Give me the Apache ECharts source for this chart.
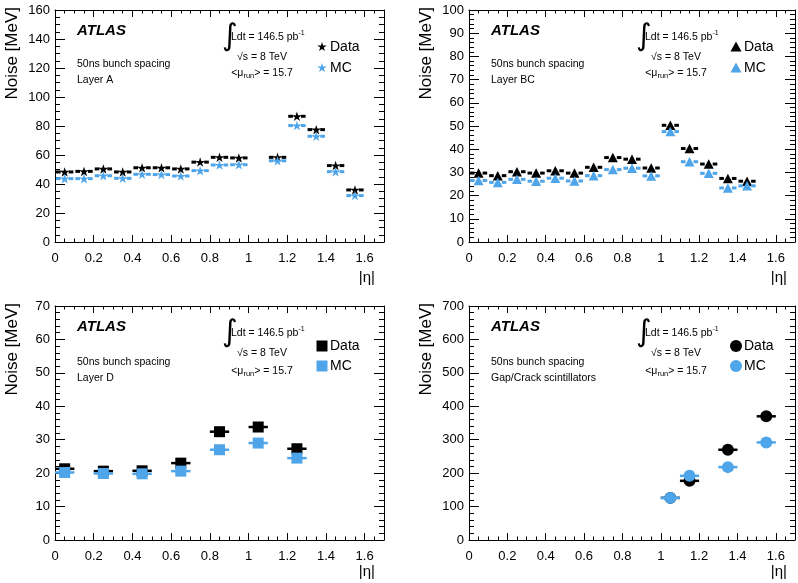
<!DOCTYPE html>
<html><head><meta charset="utf-8">
<script src="https://cdn.jsdelivr.net/npm/echarts@6/dist/echarts.min.js"></script>
<style>html,body{margin:0;padding:0;background:#fff}#c{width:798px;height:583px}</style>
</head><body><div id="c"></div>
<script>
// ---------------- data ----------------
const etaA   = [0.05,0.15,0.25,0.35,0.45,0.55,0.65,0.75,0.85,0.95,1.15,1.25,1.35,1.45,1.55];
const dataA  = [48.3,48.7,50.4,48.3,51.2,51.2,50.4,55.1,58.4,58.0,58.4,86.7,77.5,52.7,35.9];
const mcA    = [43.7,43.7,45.7,43.9,46.7,46.5,45.5,49.2,53.1,53.3,56.0,80.3,72.9,48.5,32.0];

const etaBC  = [0.05,0.15,0.25,0.35,0.45,0.55,0.65,0.75,0.85,0.95,1.05,1.15,1.25,1.35,1.45];
const dataBC = [29.7,28.6,30.3,29.7,30.7,29.7,32.2,36.4,35.7,31.9,50.3,40.3,33.6,27.4,26.2];
const mcBC   = [26.5,25.7,27.0,26.2,27.5,26.3,28.6,31.2,31.8,28.5,47.6,34.6,29.6,23.3,24.2];

const etaD   = [0.05,0.25,0.45,0.65,0.85,1.05,1.25];
const dataD  = [21.3,20.6,20.7,23.0,32.4,33.8,27.3];
const mcD    = [20.2,19.9,19.8,20.6,27.0,29.0,24.5];

const etaGC  = [1.05,1.15,1.35,1.55];
const dataGC = [126,177,270,370];
const mcGC   = [126,192,218,292];

const xTicks = [0,0.2,0.4,0.6,0.8,1,1.2,1.4,1.6];
const layerNames = ['Layer A','Layer BC','Layer D','Gap/Crack scintillators'];
const yMax = [160,100,70,700];
const yStep = [20,10,10,100];
const yMinorSplit = [4,5,5,5];

// ---------------- layout ----------------
const FONT = '"Liberation Sans", Arial, Helvetica, sans-serif';
const BLUE = '#4ea5ea';
const grids = [
  {left:55, top:10, width:329, height:232},
  {left:469, top:10, width:327, height:232},
  {left:55, top:306, width:329, height:234},
  {left:469, top:306, width:327, height:234}
];
const STAR = 'path://M0,-10L2.245,-3.09L9.51,-3.09L3.633,1.18L5.88,8.09L0,3.82L-5.88,8.09L-3.633,1.18L-9.51,-3.09L-2.245,-3.09Z';
const panels = [
  {eta:etaA, data:dataA, mc:mcA, symbol:STAR, size:[10,9.5], gap:4, lw:3, kind:'star'},
  {eta:etaBC, data:dataBC, mc:mcBC, symbol:'triangle', size:[10,9.5], gap:4, lw:3, kind:'tri'},
  {eta:etaD, data:dataD, mc:mcD, symbol:'rect', size:[11,11], gap:0, lw:2.5, kind:'rect'},
  {eta:etaGC, data:dataGC, mc:mcGC, symbol:'circle', size:[12,12], gap:0, lw:2.5, kind:'circle'}
];

const cv = document.createElement('canvas').getContext('2d');
function tw(t, font){ cv.font = font; return cv.measureText(t).width; }
function txt(x, y, t, size, opts){
  opts = opts || {};
  const el = {type:'text', x:x, y:y, rotation: opts.rot||0, z:100,
    style:{text:t, fontSize:size, fontFamily: opts.family||FONT, fontWeight: opts.weight||'normal',
      fontStyle: opts.fstyle||'normal', fill:'#000',
      align: opts.align||'left', verticalAlign: opts.va||'middle',
      textAlign: opts.align||'left', textVerticalAlign: opts.va||'middle'}};
  return el;
}
function run(x, y, parts, center){
  const widths = parts.map(p => tw(p.t, p.size+'px "Liberation Sans"'));
  const total = widths.reduce((a,b)=>a+b,0);
  let cx = center ? x - total/2 : x;
  const els = [];
  parts.forEach((p,i)=>{ els.push(txt(cx, y + (p.dy||0), p.t, p.size)); cx += widths[i]; });
  return els;
}
function starPts(cx, cy, R){
  const pts=[]; const r=R*0.382;
  for(let k=0;k<10;k++){ const a=-Math.PI/2 + k*Math.PI/5; const rr = k%2? r:R;
    pts.push([cx+rr*Math.cos(a), cy+rr*Math.sin(a)]); }
  return pts;
}
function marker(kind, cx, cy, color){
  if(kind==='star') return {type:'polygon', z:100, shape:{points:starPts(cx,cy,5)}, style:{fill:color}};
  if(kind==='tri') return {type:'polygon', z:100, shape:{points:[[cx,cy-5.5],[cx+5.5,cy+4.5],[cx-5.5,cy+4.5]]}, style:{fill:color}};
  if(kind==='rect') return {type:'rect', z:100, shape:{x:cx-5.5,y:cy-5.5,width:11,height:11}, style:{fill:color}};
  return {type:'circle', z:100, shape:{cx:cx,cy:cy,r:6}, style:{fill:color}};
}

// ---------------- axes ----------------
const xAxes=[], yAxes=[], series=[], graphics=[];
grids.forEach((g,i)=>{
  const common = {type:'value', gridIndex:i, min:0, max:1.7, splitLine:{show:false}};
  xAxes.push(Object.assign({}, common, {position:'bottom', interval:0.2,
    axisLine:{show:true, onZero:false, lineStyle:{color:'#000', width:1}},
    axisTick:{show:true, inside:true, length:7, lineStyle:{color:'#000'}},
    axisLabel:{show:true, margin:10, fontSize:13, fontFamily:FONT, color:'#000',
      formatter: v => (v>1.65 ? '' : (xTicks.indexOf(Math.round(v*10)/10)>=0 ? String(Math.round(v*10)/10) : ''))}}));
  xAxes.push(Object.assign({}, common, {position:'bottom', interval:0.05,
    axisLine:{show:false, onZero:false}, axisTick:{show:true, inside:true, length:3.5, lineStyle:{color:'#000'}},
    axisLabel:{show:false}}));
  xAxes.push(Object.assign({}, common, {position:'top', interval:0.2,
    axisLine:{show:true, onZero:false, lineStyle:{color:'#000', width:1}},
    axisTick:{show:true, inside:true, length:7, lineStyle:{color:'#000'}}, axisLabel:{show:false}}));
  xAxes.push(Object.assign({}, common, {position:'top', interval:0.05,
    axisLine:{show:false, onZero:false}, axisTick:{show:true, inside:true, length:3.5, lineStyle:{color:'#000'}},
    axisLabel:{show:false}}));
  const yc = {type:'value', gridIndex:i, min:0, max:yMax[i], interval:yStep[i], splitLine:{show:false},
    minorTick:{show:true, splitNumber:yMinorSplit[i], length:5, lineStyle:{color:'#000'}},
    axisTick:{show:true, inside:true, length:10, lineStyle:{color:'#000'}}};
  yAxes.push(Object.assign({}, yc, {position:'left',
    axisLine:{show:true, onZero:false, lineStyle:{color:'#000', width:1}},
    axisLabel:{show:true, margin:5, fontSize:13, fontFamily:FONT, color:'#000', padding:[6,0,0,0]}}));
  yAxes.push(Object.assign({}, yc, {position:'right',
    axisLine:{show:true, onZero:false, lineStyle:{color:'#000', width:1}},
    axisLabel:{show:false}}));

  // ---------- series ----------
  const p = panels[i];
  const mk = (vals) => p.eta.map((e,k)=>[e, vals[k]]);
  const errSeries = (vals, color, z) => ({
    type:'custom', xAxisIndex:4*i, yAxisIndex:2*i, z:z, clip:false, silent:true,
    data: mk(vals), encode:{x:0, y:1},
    renderItem: (params, api) => {
      const x = api.value(0), y = api.value(1);
      const c = api.coord([x,y]), l = api.coord([x-0.05,y]), r = api.coord([x+0.05,y]);
      const st = {stroke:color, lineWidth:p.lw};
      if(p.gap>0){
        return {type:'group', children:[
          {type:'line', shape:{x1:l[0]+1, y1:c[1], x2:c[0]-p.gap, y2:c[1]}, style:st},
          {type:'line', shape:{x1:c[0]+p.gap, y1:c[1], x2:r[0]-1, y2:c[1]}, style:st}
        ]};
      }
      return {type:'line', shape:{x1:l[0], y1:c[1], x2:r[0], y2:c[1]}, style:st};
    }
  });
  series.push(errSeries(p.data, '#000', 2));
  series.push({type:'scatter', name:'Data', xAxisIndex:4*i, yAxisIndex:2*i, z:3, data:mk(p.data),
    symbol:p.symbol, symbolSize:p.size, itemStyle:{color:'#000', opacity:1}, silent:true});
  series.push(errSeries(p.mc, BLUE, 4));
  series.push({type:'scatter', name:'MC', xAxisIndex:4*i, yAxisIndex:2*i, z:5, data:mk(p.mc),
    symbol:p.symbol, symbolSize:p.size, itemStyle:{color:BLUE, opacity:1}, silent:true});

  // ---------- annotations ----------
  const L = g.left, T = g.top, bottomPanel = i>=2;
  const o = bottomPanel ? 2 : 0;
  graphics.push(txt(L+22, T+21, 'ATLAS', 15, {weight:'bold', fstyle:'italic'}));
  graphics.push(txt(L+22, T+54+o, '50ns bunch spacing', 10.5));
  graphics.push(txt(L+22, T+70+o, layerNames[i], 10.5));
  graphics.push(txt(L+167, T+27, '\u222B', 30, {family:'"DejaVu Sans", sans-serif'}));
  run(L+176, T+27, [{t:'Ldt = 146.5 pb', size:10.5},{t:'-1', size:7, dy:-4}], false).forEach(e=>graphics.push(e));
  run(L+207, T+47, [{t:'\u221As = 8 TeV', size:10.5}], true).forEach(e=>graphics.push(e));
  run(L+207, T+63+o, [{t:'<\u03BC', size:10.5},{t:'run', size:7.5, dy:3},{t:'> = 15.7', size:10.5}], true).forEach(e=>graphics.push(e));
  const lx = L+267;
  const ly1 = T + (bottomPanel ? 40 : 37), ly2 = T + (bottomPanel ? 60 : 58);
  graphics.push(marker(p.kind, lx, ly1, '#000'));
  graphics.push(marker(p.kind, lx, ly2, BLUE));
  graphics.push(txt(lx+8, ly1, 'Data', 14));
  graphics.push(txt(lx+8, ly2, 'MC', 14));
  // axis titles
  graphics.push(txt(L-43, T-3, 'Noise [MeV]', 17, {rot:Math.PI/2, align:'right'}));
  graphics.push(txt(L+g.width-9, T+g.height+(bottomPanel ? 32 : 36), '|\u03B7|', 15, {align:'right'}));
});

const chart = echarts.init(document.getElementById('c'), null, {renderer:'canvas'});
chart.setOption({
  animation:false,
  backgroundColor:'#fff',
  grid: grids,
  xAxis: xAxes,
  yAxis: yAxes,
  series: series,
  graphic: graphics
});
</script>
</body></html>
